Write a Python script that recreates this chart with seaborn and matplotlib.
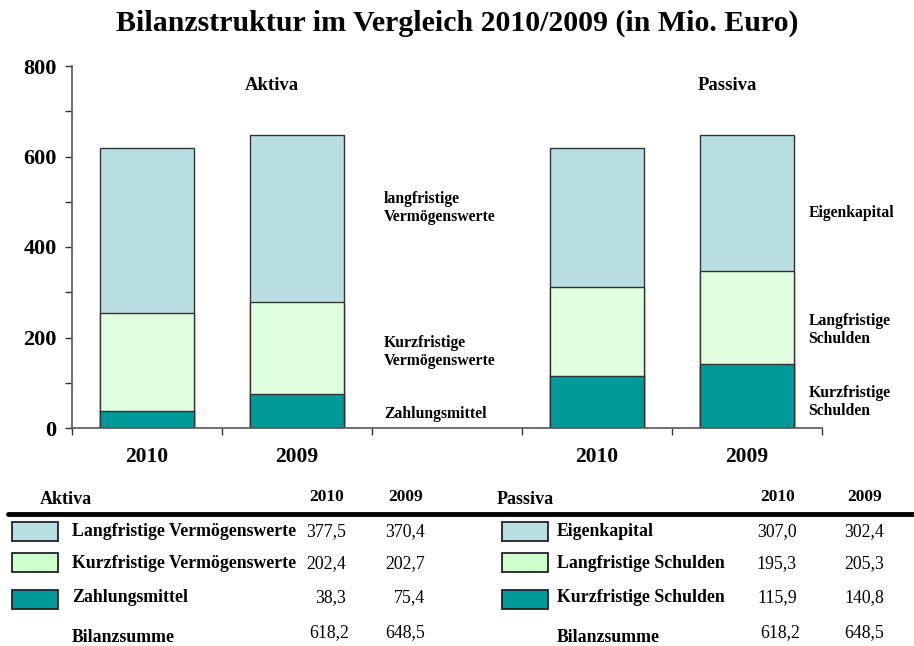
import numpy as np
import pandas as pd
import seaborn as sns
import matplotlib.pyplot as plt
from matplotlib.patches import Rectangle
from matplotlib.ticker import MultipleLocator

# table values (Mio. Euro)
years = ["2010", "2009"]
aktiva_labels = ["Langfristige Vermögenswerte", "Kurzfristige Vermögenswerte", "Zahlungsmittel"]
aktiva_2010 = [377.5, 202.4, 38.3]
aktiva_2009 = [370.4, 202.7, 75.4]
passiva_labels = ["Eigenkapital", "Langfristige Schulden", "Kurzfristige Schulden"]
passiva_2010 = [307.0, 195.3, 115.9]
passiva_2009 = [302.4, 205.3, 140.8]
bilanzsumme = [618.2, 648.5]

# bar heights as drawn in the chart (Aktiva 2010 bar differs slightly from the table)
bar_aktiva_2010 = [363.5, 216.4, 38.3]

bar_colors = ["#B9DFE2", "#E0FFE0", "#009999"]
swatch_colors = ["#B9DFE2", "#CCFFCC", "#009999"]

sns.set_theme(style="white")
plt.rcParams['font.family'] = ['Liberation Serif', 'DejaVu Serif']
plt.rcParams.update({
    'font.weight': 'bold',
    'text.color': 'black',
    'axes.labelcolor': 'black',
    'xtick.color': 'black',
    'ytick.color': 'black',
})

W, H = 914, 646
fig = plt.figure(figsize=(W / 100, H / 100), dpi=100)
ax = fig.add_axes([72 / W, 1 - 428 / H, 750 / W, 362 / H])

# bar keys: two Aktiva bars, an empty slot, two Passiva bars
order = ["A2010", "A2009", "gap", "P2010", "P2009"]
stacks = {
    "A2010": bar_aktiva_2010, "A2009": aktiva_2009,
    "P2010": passiva_2010, "P2009": passiva_2009,
}
rows = []
for key, vals in stacks.items():
    # vals are listed top -> bottom; cumulative height from the bottom
    tops = np.cumsum(vals[::-1])[::-1]
    for layer, top in enumerate(tops):
        rows.append({"bar": key, "layer": layer, "top": top})
df = pd.DataFrame(rows)

# overlapping bars drawn tallest first = stacked look
for layer in range(3):
    sns.barplot(data=df[df["layer"] == layer], x="bar", y="top", order=order,
                color=bar_colors[layer], saturation=1, errorbar=None,
                width=0.63, edgecolor="#333333", linewidth=1.0, ax=ax)

ax.set_xlim(-0.5, 4.5)
ax.set_ylim(0, 800)
ax.set_xlabel("")
ax.set_ylabel("")
for s in ["top", "right"]:
    ax.spines[s].set_visible(False)
for s in ["left", "bottom"]:
    ax.spines[s].set_color("#555555")
    ax.spines[s].set_linewidth(1.2)

ax.yaxis.set_major_locator(MultipleLocator(200))
ax.yaxis.set_minor_locator(MultipleLocator(100))
ax.tick_params(axis="y", which="both", direction="out", length=5, width=1,
               color="#333333", left=True, labelsize=16, pad=6)

ax.set_xticks(np.arange(-0.5, 5, 1))
ax.set_xticklabels([""] * 6)
ax.set_xticks(range(5), minor=True)
ax.set_xticklabels(years + [""] + years, minor=True)
ax.tick_params(axis="x", which="major", direction="out", length=5, width=1,
               color="#333333", bottom=True)
ax.tick_params(axis="x", which="minor", length=0, labelsize=15.5, pad=14)
for lab in ax.get_xticklabels(minor=True) + ax.get_yticklabels():
    lab.set_fontweight("bold")

# group headings and layer labels
ax.text(0.83, 758, "Aktiva", ha="center", va="center", fontsize=13.5, fontweight="bold")
ax.text(3.87, 758, "Passiva", ha="center", va="center", fontsize=13.5, fontweight="bold")
side_a = ["langfristige\nVermögenswerte", "Kurzfristige\nVermögenswerte", "Zahlungsmittel"]
side_a_y = [486, 168, 31]
for t, y in zip(side_a, side_a_y):
    ax.text(1.58, y, t, ha="left", va="center", fontsize=11.3, fontweight="bold",
            linespacing=1.2)
side_p = ["Eigenkapital", "Langfristige\nSchulden", "Kurzfristige\nSchulden"]
side_p_y = [475, 217, 57]
for t, y in zip(side_p, side_p_y):
    ax.text(4.41, y, t, ha="left", va="center", fontsize=11.3, fontweight="bold",
            linespacing=1.2, clip_on=False)

fig.text(0.5, 1 - 23 / H, "Bilanzstruktur im Vergleich 2010/2009 (in Mio. Euro)",
         ha="center", va="center", fontsize=21.5, fontweight="bold")

# table under the chart (pixel layout helpers)
def fx(px):
    return px / W


def fy(py):
    return 1 - py / H


def fmt(v):
    return f"{v:.1f}".replace(".", ",")


fig.add_artist(plt.Line2D([fx(8), fx(914)], [fy(514), fy(514)], color="black",
                          linewidth=3.5, transform=fig.transFigure))

tables = [
    ("Aktiva", aktiva_labels, aktiva_2010, aktiva_2009, 40, 12, 72, 346, 425),
    ("Passiva", passiva_labels, passiva_2010, passiva_2009, 497, 502, 557, 797, 884),
]
row_y = [532, 564, 598]
sw_y = [522, 553, 590]
for head, labels, v10, v09, hx, swx, lx, c1, c2 in tables:
    fig.text(fx(hx), fy(500), head, ha="left", va="center", fontsize=13, fontweight="bold")
    fig.text(fx(c1 - 2), fy(497), years[0], ha="right", va="center", fontsize=12.5, fontweight="bold")
    fig.text(fx(c2 - 2), fy(497), years[1], ha="right", va="center", fontsize=12.5, fontweight="bold")
    for i, lab in enumerate(labels):
        fig.add_artist(Rectangle((fx(swx), fy(sw_y[i] + 19)), 46 / W, 19 / H,
                                 transform=fig.transFigure, facecolor=swatch_colors[i],
                                 edgecolor="#222222", linewidth=1.3))
        fig.text(fx(lx), fy(row_y[i]), lab, ha="left", va="center",
                 fontsize=12.8, fontweight="bold")
        fig.text(fx(c1), fy(row_y[i]), fmt(v10[i]), ha="right", va="center",
                 fontsize=12.8, fontweight="normal")
        fig.text(fx(c2), fy(row_y[i]), fmt(v09[i]), ha="right", va="center",
                 fontsize=12.8, fontweight="normal")
    fig.text(fx(lx), fy(637), "Bilanzsumme", ha="left", va="center",
             fontsize=12.8, fontweight="bold")
    fig.text(fx(c1 + 3), fy(633), fmt(bilanzsumme[0]), ha="right", va="center",
             fontsize=12.8, fontweight="normal")
    fig.text(fx(c2), fy(633), fmt(bilanzsumme[1]), ha="right", va="center",
             fontsize=12.8, fontweight="normal")

fig.savefig("out.png", dpi=100)
